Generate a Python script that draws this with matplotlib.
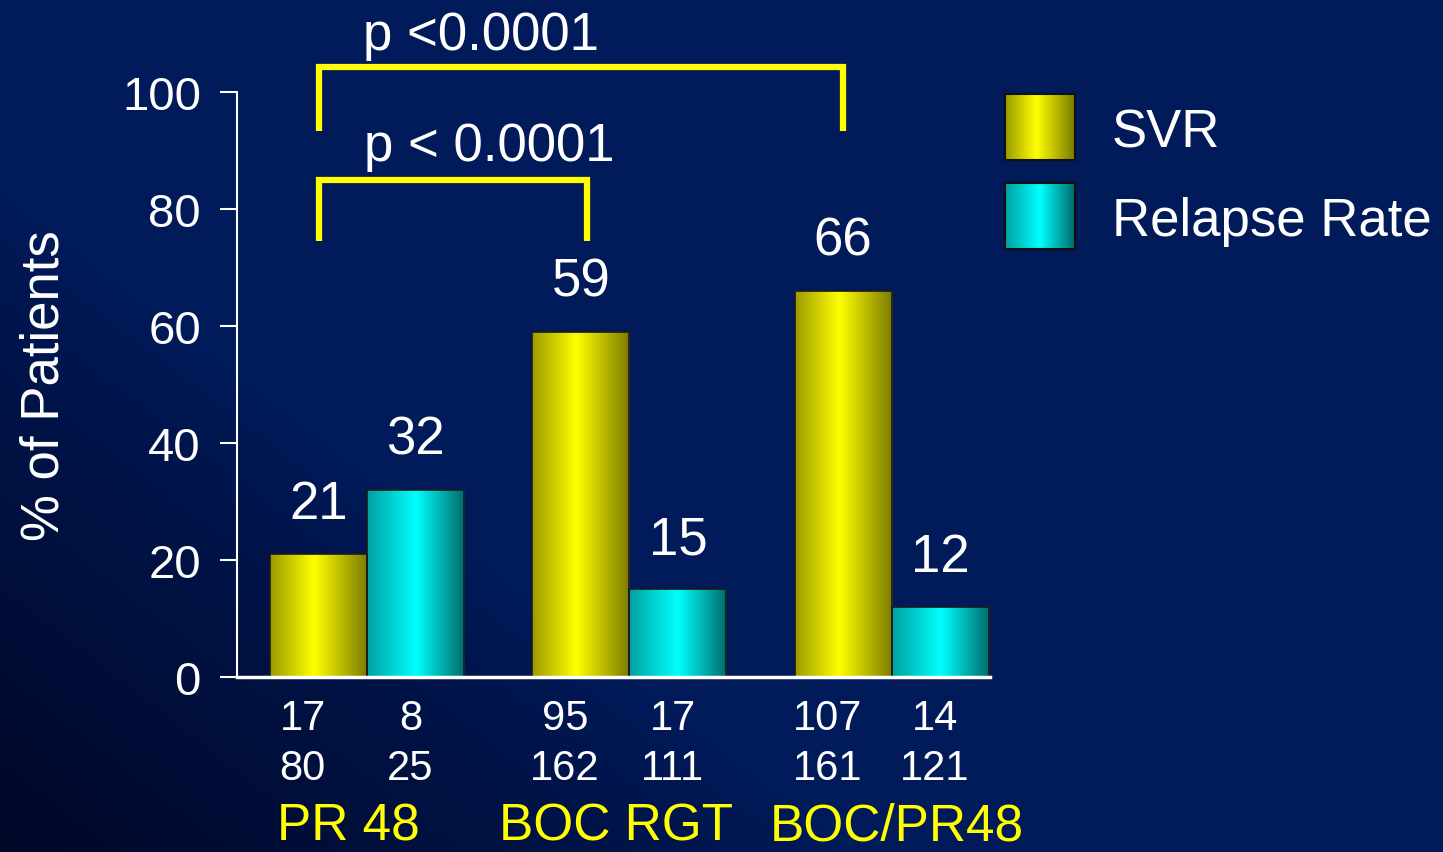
import numpy as np
import matplotlib.pyplot as plt
from matplotlib.colors import LinearSegmentedColormap
from matplotlib import font_manager

plt.rcParams['font.family'] = ['Liberation Sans', 'DejaVu Sans']

# Data
groups = ['PR 48', 'BOC RGT', 'BOC/PR48']
svr = [21, 59, 66]
relapse = [32, 15, 12]
svr_resp = ['17', '95', '107']
svr_total = ['80', '162', '161']
relapse_resp = ['8', '17', '14']
relapse_total = ['25', '111', '121']
series = ['SVR', 'Relapse Rate']

W, H = 1443, 853
fig = plt.figure(figsize=(W / 100, H / 100), dpi=100)

# navy background, darker toward the lower-left corner
bg = fig.add_axes([0, 0, 1, 1], zorder=-1)
u, v = np.meshgrid(np.linspace(0, 1, 300), np.linspace(1, 0, 200))
d = np.clip(1 - (u * 1.7 + v * 1.3), 0, 1) ** 0.8
dark = np.array([0, 8, 40]) / 255
light = np.array([0, 26, 90]) / 255
img = light[None, None, :] * (1 - d[..., None]) + dark[None, None, :] * d[..., None]
bg.imshow(img, aspect='auto', extent=[0, 1, 0, 1])
bg.set_axis_off()

yellow_cm = LinearSegmentedColormap.from_list(
    'y', [(0, '#9a9a00'), (0.45, '#ffff00'), (1, '#7a7a00')])
cyan_cm = LinearSegmentedColormap.from_list(
    'c', [(0, '#00a0a0'), (0.5, '#00ffff'), (1, '#006a6a')])

ax = fig.add_axes([237 / W, 1 - 678 / H, (990 - 237) / W, (678 - 93) / H])
ax.set_facecolor('none')

x = np.arange(len(groups))
w = 0.37
grad = np.linspace(0, 1, 256)[None, :]


def gradient_bars(xs, vals, cmap):
    bars = ax.bar(xs, vals, width=w, color='none', edgecolor='#1a1a1a',
                  linewidth=1.2, zorder=3)
    for b in bars:
        x0, y0 = b.get_x(), b.get_y()
        im = ax.imshow(grad, cmap=cmap, aspect='auto', zorder=2,
                       extent=[x0, x0 + b.get_width(), y0, y0 + b.get_height()])
        im.set_clip_path(b)
    return bars


gradient_bars(x - w / 2, svr, yellow_cm)
gradient_bars(x + w / 2, relapse, cyan_cm)
ax.set_xlim(-0.496, 2.375)
ax.set_ylim(0, 100)

for xs, vals in [(x - w / 2, svr), (x + w / 2, relapse)]:
    for xi, val in zip(xs, vals):
        ax.annotate(str(val), (xi, val), xytext=(0, 36), textcoords='offset points',
                    ha='center', va='center', color='white', fontsize=38)

# spines and ticks
for s in ['top', 'right']:
    ax.spines[s].set_visible(False)
ax.spines['left'].set_color('white')
ax.spines['left'].set_linewidth(1.5)
ax.spines['bottom'].set_color('white')
ax.spines['bottom'].set_linewidth(2.5)
ax.spines['bottom'].set_zorder(4)
ax.set_yticks([0, 20, 40, 60, 80, 100])
ax.tick_params(axis='y', colors='white', labelsize=34, length=12, width=1.5,
               direction='out', pad=14)
ax.set_xticks([])
ax.set_ylabel('% of Patients', color='white', fontsize=38, labelpad=38)

# patient counts and group names under the axis
names = {f.name for f in font_manager.fontManager.ttflist}
narrow = 'Liberation Sans Narrow' if 'Liberation Sans Narrow' in names else 'Liberation Sans'
num_size = 33 if narrow == 'Liberation Sans Narrow' else 30
rows = [(x - w / 2 - 0.06, svr_resp, svr_total), (x + w / 2 - 0.02, relapse_resp, relapse_total)]
for xs, top_row, bottom_row in rows:
    for xi, a, b in zip(xs, top_row, bottom_row):
        ax.text(xi, -7.0, a, ha='center', va='center', color='white',
                fontsize=num_size, family=narrow, clip_on=False)
        ax.text(xi, -15.6, b, ha='center', va='center', color='white',
                fontsize=num_size, family=narrow, clip_on=False)
for xi, name in zip([-0.07, 0.95, 2.02], groups):
    ax.text(xi, -25.4, name, ha='center', va='center', color='#ffff00',
            fontsize=37, clip_on=False)

# significance brackets
bk = dict(color='#ffff00', linewidth=4.5, clip_on=False, zorder=5,
          solid_capstyle='butt', solid_joinstyle='miter')
ax.plot([-w / 2, -w / 2, 1 - w / 2 + 0.025, 1 - w / 2 + 0.025],
        [74.5, 85, 85, 74.5], **bk)
ax.plot([-w / 2, -w / 2, 2 - w / 2, 2 - w / 2],
        [93.3, 104.2, 104.2, 93.3], **bk)
ax.text(0.466, 90.8, 'p < 0.0001', ha='center', va='center', color='white',
        fontsize=38, clip_on=False)
ax.text(0.435, 109.8, 'p <0.0001', ha='center', va='center', color='white',
        fontsize=38, clip_on=False)

# legend with gradient swatches
lg = fig.add_axes([0, 0, 1, 1], zorder=5)
for (top, cmap, label) in [(95, yellow_cm, series[0]), (184, cyan_cm, series[1])]:
    lg.imshow(grad, cmap=cmap, aspect='auto', extent=[1005, 1075, top + 66, top])
    lg.add_patch(plt.Rectangle((1005, top), 70, 66, fill=False,
                               edgecolor='#111111', linewidth=1.5))
    lg.text(1112, top + 38, label, ha='left', va='center', color='white',
            fontsize=38)
lg.set_xlim(0, W)
lg.set_ylim(H, 0)
lg.set_axis_off()

fig.savefig('out.png', dpi=100)
